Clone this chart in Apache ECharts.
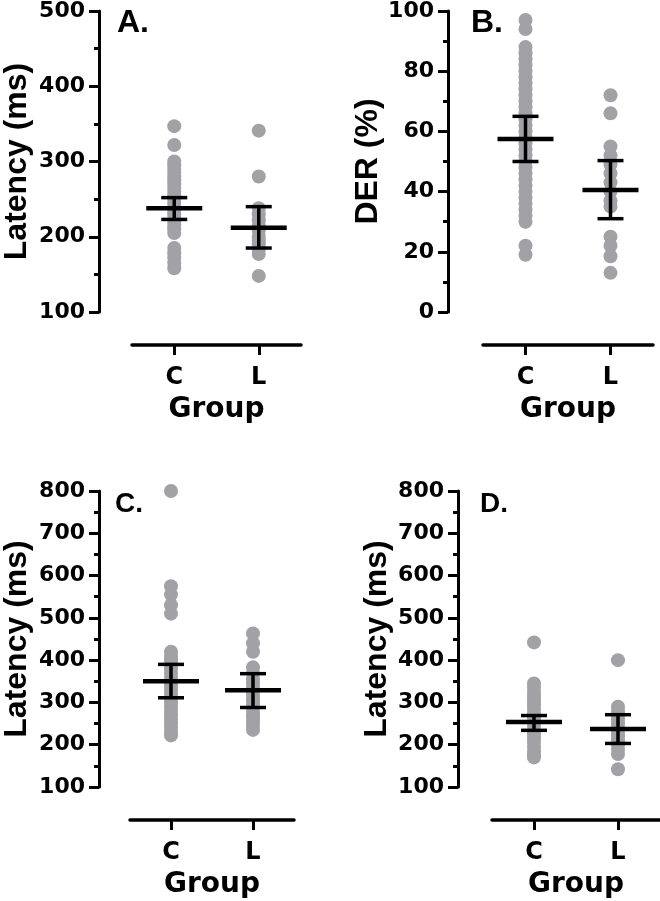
<!DOCTYPE html>
<html>
<head>
<meta charset="utf-8">
<script src="https://cdn.jsdelivr.net/npm/echarts@6/dist/echarts.min.js"></script>
<style>
html,body{margin:0;padding:0;background:#fff;}
#chart{width:660px;height:901px;}
</style>
</head>
<body>
<div id="chart"></div>
<script>
// ---- data ----
const categories = ['C', 'L'];
const panelLetters = ['A.', 'B.', 'C.', 'D.'];
const yTitles = ['Latency (ms)', 'DER (%)', 'Latency (ms)', 'Latency (ms)'];
const xTitle = 'Group';

// Panel A: Latency (ms)
const aC = [347, 322, 300, 295, 290, 285, 280, 275, 270, 265, 260, 255, 250, 245, 240, 235, 230, 225, 220, 215, 210, 205, 185, 178, 172, 165, 158];
const aL = [341, 280, 238, 230, 222, 215, 208, 200, 195, 190, 183, 177, 148];
const aMean = [238, 212];
const aLow = [223, 185];
const aHigh = [252, 240];

// Panel B: DER (%)
const bC = [97, 94, 88, 86, 84, 82, 80, 78, 76, 74, 72, 70, 68, 66, 64, 62, 60, 58, 56, 54, 52, 50, 48, 46, 44, 42, 40, 38, 36, 34, 32, 30, 22, 19];
const bL = [72, 66, 55, 52, 49, 46, 43, 40, 37, 35, 25, 22, 18.5, 13];
const bMean = [57.5, 40.5];
const bLow = [50, 31];
const bHigh = [65, 50.3];

// Panel C: Latency (ms)
const cC = [800, 575, 555, 530, 510, 420, 410, 400, 390, 380, 370, 360, 350, 340, 330, 320, 310, 300, 290, 280, 270, 260, 250, 240, 230, 222];
const cL = [463, 440, 420, 383, 370, 355, 345, 335, 325, 315, 305, 295, 285, 275, 265, 255, 245, 235];
const cMean = [350, 329];
const cLow = [311, 288];
const cHigh = [390, 368];

// Panel D: Latency (ms)
const dC = [442, 345, 335, 325, 315, 305, 295, 285, 275, 265, 255, 245, 235, 225, 215, 205, 195, 185, 175, 170];
const dL = [400, 290, 280, 270, 260, 250, 240, 230, 220, 210, 200, 190, 178, 142];
const dMean = [254, 237];
const dLow = [234, 203];
const dHigh = [269, 271];

// axis ranges (tick labels)
const yMins = [100, 0, 100, 100];
const yMaxs = [500, 100, 800, 800];
const yIntervals = [100, 20, 100, 100];

// ---- layout ----
const grids = [
  {left: 131, right: 359, top: 9, bottom: 589},
  {left: 483, right: 7, top: 9, bottom: 589},
  {left: 128, right: 366, top: 491, bottom: 114},
  {left: 492, right: 0, top: 491, bottom: 114}
];
const yOffsets = [33, 35, 31, 34];
const yNameGaps = [66, 46, 66, 65];
const letterPos = [[117, 7], [471, 7], [115, 490], [480, 490]];
const letterSizes = [32, 32, 28, 28];

const panels = [
  [aC, aL, aMean, aLow, aHigh],
  [bC, bL, bMean, bLow, bHigh],
  [cC, cL, cMean, cLow, cHigh],
  [dC, dL, dMean, dLow, dHigh]
];

const DOT = '#a1a1a6';
const BLACK = '#000';
const numFont = 'DejaVu Sans';
const titleFont = 'Liberation Sans';

const xAxes = [], yAxes = [], series = [], graphics = [];
panels.forEach((p, i) => {
  xAxes.push({
    type: 'category', gridIndex: i, data: categories, position: 'bottom', offset: 33,
    axisLine: {show: true, onZero: false, lineStyle: {color: BLACK, width: 3.5}},
    axisTick: {show: true, alignWithLabel: true, length: 10, lineStyle: {color: BLACK, width: 3}},
    axisLabel: {margin: 21, color: BLACK, fontFamily: numFont, fontWeight: 'bold', fontSize: 24},
    splitLine: {show: false},
    name: xTitle, nameLocation: 'middle', nameGap: 51,
    nameTextStyle: {color: BLACK, fontFamily: numFont, fontWeight: 'bold', fontSize: 28}
  });
  yAxes.push({
    type: 'value', gridIndex: i, min: yMins[i], max: yMaxs[i], interval: yIntervals[i],
    position: 'left', offset: yOffsets[i],
    axisLine: {show: true, lineStyle: {color: BLACK, width: 3}},
    axisTick: {show: true, length: 10, lineStyle: {color: BLACK, width: 3}},
    minorTick: {show: true, splitNumber: 2, length: 5, lineStyle: {color: BLACK, width: 3}},
    splitLine: {show: false},
    axisLabel: {margin: 14, color: BLACK, fontFamily: numFont, fontWeight: 'bold', fontSize: 22},
    name: yTitles[i], nameLocation: 'middle', nameGap: yNameGaps[i], nameRotate: 90,
    nameTextStyle: {color: BLACK, fontFamily: titleFont, fontWeight: 'bold', fontSize: 32}
  });
  const pts = [];
  p[0].forEach(v => pts.push([0, v]));
  p[1].forEach(v => pts.push([1, v]));
  series.push({
    type: 'scatter', xAxisIndex: i, yAxisIndex: i, data: pts,
    symbol: 'circle', symbolSize: 14, itemStyle: {color: DOT, opacity: 1},
    z: 2, silent: true, animation: false
  });
  const stats = categories.map((c, k) => [k, p[2][k], p[3][k], p[4][k]]);
  series.push({
    type: 'custom', xAxisIndex: i, yAxisIndex: i, data: stats, clip: false, z: 5,
    animation: false, silent: true,
    renderItem: function (params, api) {
      const x = api.value(0);
      const m = api.coord([x, api.value(1)]);
      const lo = api.coord([x, api.value(2)]);
      const hi = api.coord([x, api.value(3)]);
      const st = {stroke: BLACK, lineWidth: 3.5};
      return {
        type: 'group',
        children: [
          {type: 'line', shape: {x1: lo[0], y1: lo[1], x2: hi[0], y2: hi[1]}, style: st},
          {type: 'line', shape: {x1: hi[0] - 13, y1: hi[1], x2: hi[0] + 13, y2: hi[1]}, style: st},
          {type: 'line', shape: {x1: lo[0] - 13, y1: lo[1], x2: lo[0] + 13, y2: lo[1]}, style: st},
          {type: 'line', shape: {x1: m[0] - 28, y1: m[1], x2: m[0] + 28, y2: m[1]}, style: {stroke: BLACK, lineWidth: 4.5}}
        ]
      };
    }
  });
  graphics.push({
    type: 'text', left: letterPos[i][0], top: letterPos[i][1],
    style: {text: panelLetters[i], fill: BLACK, font: 'bold ' + letterSizes[i] + 'px "' + titleFont + '"'}
  });
});

const chart = echarts.init(document.getElementById('chart'), null, {renderer: 'canvas'});
chart.setOption({
  animation: false,
  backgroundColor: '#fff',
  grid: grids,
  xAxis: xAxes,
  yAxis: yAxes,
  series: series,
  graphic: graphics
});
</script>
</body>
</html>
